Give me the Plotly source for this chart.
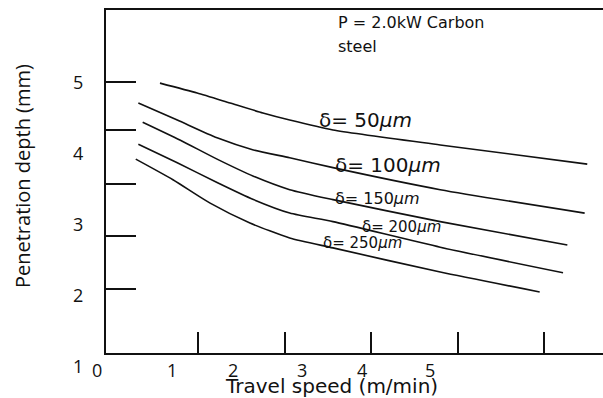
import plotly.graph_objects as go

# ---- data (travel speed in m/min, penetration depth in mm) ----
series_names = ["δ= 50μm", "δ= 100μm", "δ= 150μm", "δ= 200μm", "δ= 250μm"]
speed_50 = [0.56, 0.99, 1.37, 1.75, 2.06, 2.56, 3.80, 5.50]
depth_50 = [4.98, 4.84, 4.70, 4.56, 4.46, 4.32, 4.11, 3.84]
speed_100 = [0.31, 0.76, 1.22, 1.64, 2.06, 2.56, 3.80, 5.47]
depth_100 = [4.70, 4.46, 4.21, 4.04, 3.93, 3.79, 3.48, 3.15]
speed_150 = [0.36, 0.79, 1.22, 1.64, 2.06, 2.56, 3.80, 5.27]
depth_150 = [4.43, 4.18, 3.91, 3.67, 3.48, 3.34, 3.03, 2.70]
speed_200 = [0.31, 0.76, 1.22, 1.64, 2.06, 2.56, 3.80, 5.22]
depth_200 = [4.12, 3.86, 3.58, 3.34, 3.15, 3.03, 2.67, 2.31]
speed_250 = [0.28, 0.71, 1.14, 1.60, 2.06, 2.56, 3.80, 4.95]
depth_250 = [3.91, 3.62, 3.29, 3.01, 2.80, 2.66, 2.32, 2.04]

# curve label anchors (data units) and font sizes
label_x = [2.38, 2.56, 2.56, 2.87, 2.42]
label_y = [4.46, 3.83, 3.36, 2.955, 2.73]
label_size = [20, 20, 16, 15, 15]

# tick marks and tick labels (as drawn in the original figure)
x_tick_marks = [1, 2, 3, 4, 5]
y_tick_marks = [5.0, 4.32, 3.56, 2.83, 2.08]
x_label_vals = [-0.17, 0.70, 1.40, 2.20, 2.90, 3.68]
x_label_text = ["0", "1", "2", "3", "4", "5"]
y_label_vals = [5, 4, 3, 2, 1]
y_label_text = ["5", "4", "3", "2", "1"]

x_range = [-0.064, 5.682]
y_range = [1.18, 6.01]

FONT = "Open Sans"
WIDE = "DejaVu Sans"
INK = "#111111"


def x_paper(v):
    return (v - x_range[0]) / (x_range[1] - x_range[0])


def y_paper(v):
    return (v - y_range[0]) / (y_range[1] - y_range[0])


fig = go.Figure()
xs = [speed_50, speed_100, speed_150, speed_200, speed_250]
ys = [depth_50, depth_100, depth_150, depth_200, depth_250]
for name, x, y in zip(series_names, xs, ys):
    fig.add_trace(go.Scatter(x=x, y=y, mode="lines", name=name,
                             line=dict(color=INK, width=1.6, shape="spline", smoothing=0.6),
                             showlegend=False, hoverinfo="skip"))

annotations = []
for name, lx, ly, fs in zip(series_names, label_x, label_y, label_size):
    txt = name.replace("μm", "<i>μm</i>")
    annotations.append(dict(x=lx, y=ly, xref="x", yref="y", text=txt, showarrow=False,
                            xanchor="left", yanchor="middle",
                            font=dict(family=WIDE, size=fs, color=INK)))
for v, t in zip(x_label_vals, x_label_text):
    annotations.append(dict(x=x_paper(v), y=0, xref="paper", yref="paper", text=t, showarrow=False,
                            xanchor="center", yanchor="middle", yshift=-17,
                            font=dict(family=FONT, size=18, color=INK)))
for v, t in zip(y_label_vals, y_label_text):
    annotations.append(dict(x=0, y=y_paper(v), xref="paper", yref="paper", text=t, showarrow=False,
                            xanchor="center", yanchor="middle", xshift=-28,
                            font=dict(family=FONT, size=18, color=INK)))
annotations.append(dict(x=0.453, y=0, xref="paper", yref="paper", text="Travel speed (m/min)",
                        showarrow=False, xanchor="center", yanchor="middle", yshift=-33,
                        font=dict(family=WIDE, size=20, color=INK)))
annotations.append(dict(x=0, y=0.516, xref="paper", yref="paper", text="Penetration depth (mm)",
                        showarrow=False, xanchor="center", yanchor="middle", xshift=-84,
                        textangle=-90, font=dict(family=FONT, size=20, color=INK)))
annotations.append(dict(x=0.463, y=0.971, xref="paper", yref="paper", text="P = 2.0kW Carbon",
                        showarrow=False, xanchor="left", yanchor="middle", yshift=-3,
                        font=dict(family=WIDE, size=16, color=INK)))
annotations.append(dict(x=0.463, y=0.971, xref="paper", yref="paper", text="steel",
                        showarrow=False, xanchor="left", yanchor="middle", yshift=-27,
                        font=dict(family=WIDE, size=16, color=INK)))

fig.update_layout(
    width=603, height=398,
    margin=dict(l=106, r=0, t=10, b=45),
    paper_bgcolor="white", plot_bgcolor="white",
    annotations=annotations,
    xaxis=dict(range=x_range, showgrid=False, zeroline=False, showline=True,
               linecolor=INK, linewidth=2, mirror=True,
               ticks="inside", ticklen=21, tickwidth=1.6, tickcolor=INK,
               tickmode="array", tickvals=x_tick_marks, showticklabels=False),
    yaxis=dict(range=y_range, showgrid=False, zeroline=False, showline=True,
               linecolor=INK, linewidth=2,
               ticks="inside", ticklen=30, tickwidth=1.6, tickcolor=INK,
               tickmode="array", tickvals=y_tick_marks, showticklabels=False),
)

fig.write_html("out.html")
